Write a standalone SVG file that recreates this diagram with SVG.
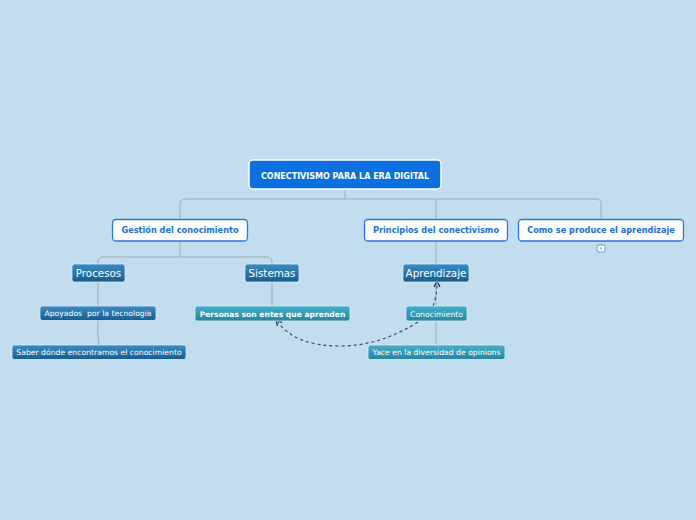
<svg xmlns="http://www.w3.org/2000/svg" width="696" height="520" viewBox="0 0 696 520">
<defs>
<linearGradient id="gDark" x1="0" y1="0" x2="0" y2="1"><stop offset="0" stop-color="#3a8cc4"/><stop offset="1" stop-color="#175c8e"/></linearGradient>
<linearGradient id="gTeal" x1="0" y1="0" x2="0" y2="1"><stop offset="0" stop-color="#46b0c8"/><stop offset="1" stop-color="#24859f"/></linearGradient>
<marker id="arr" viewBox="0 0 10 10" refX="5" refY="5" markerWidth="6" markerHeight="6" orient="auto-start-reverse"><path d="M1,1 L9,5 L1,9" fill="none" stroke="#2d3e5c" stroke-width="2"/></marker>
<style>
.ln{fill:none;stroke:#a2abb3;stroke-width:1}
.dash{fill:none;stroke:#3a4d6e;stroke-width:1.2;stroke-dasharray:3,3}
.root{fill:#0a70e0;stroke:#ffffff;stroke-width:1.5}
.wb{fill:#ffffff;stroke:#2b78d6;stroke-width:1.3}
.dk{fill:url(#gDark);stroke:#d8ecf8;stroke-width:0.8}
.tl{fill:url(#gTeal);stroke:#d8ecf8;stroke-width:0.8}
.t{font-family:"DejaVu Sans",Verdana,sans-serif;text-anchor:middle}
.tr{font-size:8px;font-weight:bold;fill:#ffffff}
.tw{font-size:8.2px;font-weight:bold;fill:#1d6fd2}
.td{font-size:10.3px;fill:#ffffff}
.ts{font-size:7.7px;fill:#ffffff}
.tsb{font-size:7.6px;font-weight:bold;fill:#ffffff}
</style>
</defs>
<rect x="0" y="0" width="696" height="520" fill="#c3ddf0"/>
<g id="connectors">
<path class="ln" d="M345,189 V199"/>
<path class="ln" d="M180,219 V204 Q180,199 185,199 H596 Q601,199 601,204 V219"/>
<path class="ln" d="M436,199 V219"/>
<path class="ln" d="M180,241 V257"/>
<path class="ln" d="M98,264 V262 Q98,257 103,257 H267 Q272,257 272,262 V264"/>
<path class="ln" d="M436,241 V264"/>
<path class="ln" d="M98,282 V306"/>
<path class="ln" d="M98,320 Q97,332 99,345"/>
<path class="ln" d="M272,282 V306"/>
<path class="ln" d="M436,282 V306"/>
<path class="ln" d="M436,321 V345"/>
<path class="dash" d="M418,322 Q380,346 340,346 Q295,346 278,322" marker-end="url(#arr)"/>
<path class="dash" d="M433,306 Q437,296 437,284" marker-end="url(#arr)"/>
</g>
<g id="root"><rect class="root" x="249" y="160" width="192" height="29" rx="4"/><text class="t tr" x="345" y="178.5">CONECTIVISMO PARA LA ERA DIGITAL</text></g>
<g id="gestion"><rect class="wb" x="112.5" y="219.5" width="135" height="21.5" rx="3.5"/><text class="t tw" x="180" y="233.3">Gestión del conocimiento</text></g>
<g id="principios"><rect class="wb" x="364.5" y="219.5" width="143" height="21.5" rx="3.5"/><text class="t tw" x="436" y="233.3">Principios del conectivismo</text></g>
<g id="como"><rect class="wb" x="518.5" y="219.5" width="165" height="21.5" rx="3.5"/><text class="t tw" x="601" y="233.3">Como se produce el aprendizaje</text></g>
<g id="como-icon"><rect x="597" y="245" width="8" height="7" rx="2" fill="#ffffff" stroke="#3b85d8" stroke-width="0.8"/><rect x="600" y="247.3" width="2" height="2" fill="#9bb8d6"/></g>
<g id="procesos"><rect class="dk" x="72" y="264" width="53" height="18" rx="2.5"/><text class="t td" x="98.5" y="277">Procesos</text></g>
<g id="sistemas"><rect class="dk" x="245" y="264" width="54" height="18" rx="2.5"/><text class="t td" x="272" y="277">Sistemas</text></g>
<g id="aprendizaje"><rect class="dk" x="403" y="264" width="66" height="18" rx="2.5"/><text class="t td" x="436" y="277">Aprendizaje</text></g>
<g id="apoyados"><rect class="dk" x="40" y="306" width="116" height="14.5" rx="2.5"/><text class="t ts" x="98" y="316.3" xml:space="preserve">Apoyados  por la tecnologia</text></g>
<g id="saber"><rect class="dk" x="12" y="345" width="174" height="14.5" rx="2.5"/><text class="t ts" x="99" y="355.3">Saber dónde encontramos el conocimiento</text></g>
<g id="personas"><rect class="tl" x="195" y="306" width="155" height="15" rx="2.5"/><text class="t tsb" x="272.5" y="316.8">Personas son entes que aprenden</text></g>
<g id="conocimiento"><rect class="tl" x="406" y="306" width="61" height="15" rx="2.5"/><text class="t ts" x="436.5" y="316.5">Conocimiento</text></g>
<g id="yace"><rect class="tl" x="368" y="345" width="137" height="14.5" rx="2.5"/><text class="t ts" x="436.5" y="355.3">Yace en la diversidad de opinions</text></g>
</svg>
